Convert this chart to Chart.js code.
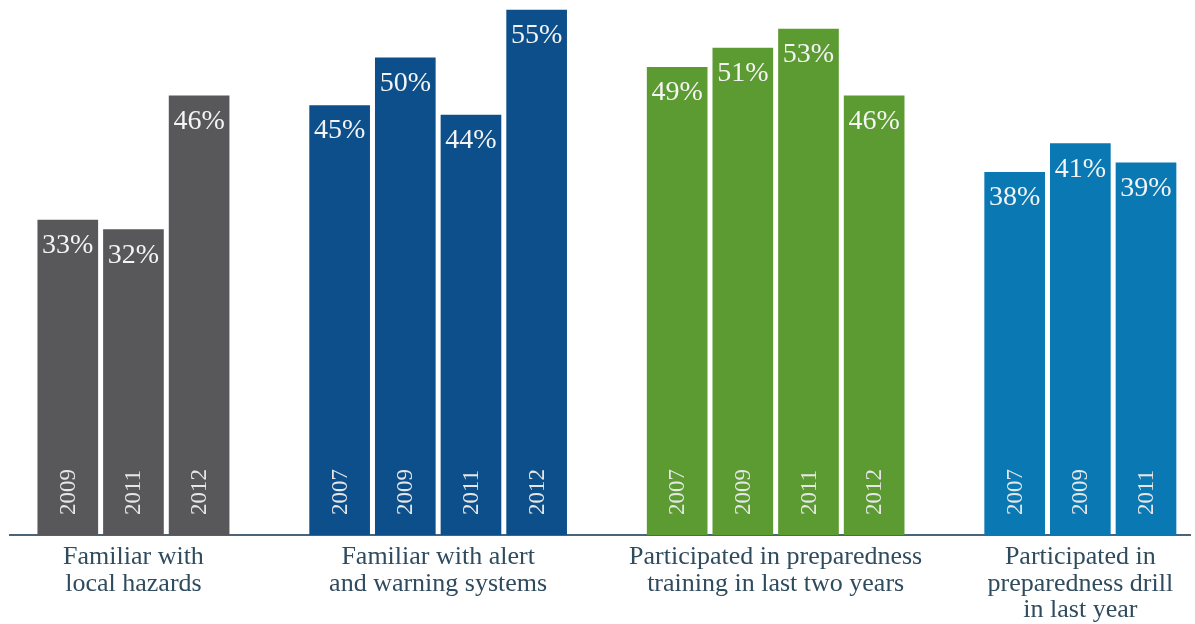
<!DOCTYPE html>
<html>
<head>
<meta charset="utf-8">
<script src="https://cdn.jsdelivr.net/npm/chart.js@4/dist/chart.umd.min.js"></script>
<style>
	html, body { margin: 0; padding: 0; background: #fff; }
	#wrap { width: 1195px; height: 624px; }
</style>
</head>
<body>
<div id="wrap"><canvas id="chart"></canvas></div>
<script>
// data
const groupLabels = [
	["Familiar with", "local hazards"],
	["Familiar with alert", "and warning systems"],
	["Participated in preparedness", "training in last two years"],
	["Participated in", "preparedness drill", "in last year"],
];
const years = [
	["2009", "2011", "2012"],
	["2007", "2009", "2011", "2012"],
	["2007", "2009", "2011", "2012"],
	["2007", "2009", "2011"],
];
const values = [
	[33, 32, 46],
	[45, 50, 44, 55],
	[49, 51, 53, 46],
	[38, 41, 39],
];
const groupColors = ["#58585a", "#0c4f8a", "#5c9a32", "#0a78b3"];

const GAP = 1.14; // extra space between groups, in bar slots
const FONT = "'Liberation Serif', 'DejaVu Serif', serif";

// flatten groups into points on a linear x axis
let points = [], barColors = [], barYears = [], groupCenters = [];
let idx = 0;
values.forEach((vals, g) => {
	let first = idx + g * GAP;
	vals.forEach((v, j) => {
		points.push({ x: idx + g * GAP, y: v });
		barColors.push(groupColors[g]);
		barYears.push(years[g][j]);
		idx++;
	});
	groupCenters.push((first + (idx - 1 + g * GAP)) / 2);
});

const barText = {
	id: "barText",
	afterDatasetsDraw(chart) {
		const ctx = chart.ctx;
		const meta = chart.getDatasetMeta(0);
		const base = chart.scales.y.getPixelForValue(0);
		ctx.save();
		meta.data.forEach((bar, i) => {
			ctx.fillStyle = "#f4f4f4";
			ctx.font = "28px " + FONT;
			ctx.textAlign = "center";
			ctx.textBaseline = "alphabetic";
			ctx.fillText(points[i].y + "%", bar.x, bar.y + 33);

			ctx.save();
			ctx.translate(bar.x, base - 20);
			ctx.rotate(-Math.PI / 2);
			ctx.font = "23px " + FONT;
			ctx.fillStyle = "#e6e6e6";
			ctx.textAlign = "left";
			ctx.textBaseline = "middle";
			ctx.fillText(barYears[i], 0, 1);
			ctx.restore();
		});
		ctx.restore();
	},
};

new Chart(document.getElementById("chart").getContext("2d"), {
	type: "bar",
	data: {
		datasets: [
			{
				data: points,
				backgroundColor: barColors,
				barThickness: 60,
			},
		],
	},
	options: {
		responsive: true,
		maintainAspectRatio: false,
		animation: false,
		layout: { padding: { left: 10, right: 5, top: 0, bottom: 0 } },
		plugins: {
			legend: { display: false },
			tooltip: { enabled: false },
		},
		scales: {
			x: {
				type: "linear",
				offset: false,
				min: -0.88,
				max: 17.09,
				grid: { display: false, offset: false, drawTicks: false, tickLength: 0 },
				border: { display: true, color: "#4a6378", width: 2 },
				afterBuildTicks: (scale) => {
					scale.ticks = groupCenters.map((v) => ({ value: v }));
				},
				afterFit: (scale) => {
					scale.height = 89;
				},
				ticks: {
					autoSkip: false,
					maxRotation: 0,
					padding: 9,
					color: "#2f4b5e",
					font: { family: FONT, size: 26, lineHeight: 1.02 },
					callback: (v, i) => groupLabels[i],
				},
			},
			y: {
				display: false,
				min: 0,
				max: 56.05,
			},
		},
	},
	plugins: [barText],
});
</script>
</body>
</html>
